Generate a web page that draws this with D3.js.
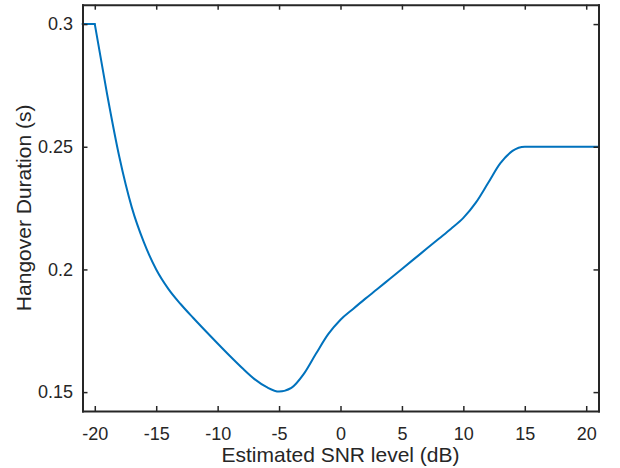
<!DOCTYPE html>
<html>
<head>
<meta charset="utf-8">
<script src="https://cdn.jsdelivr.net/npm/d3@7"></script>
<style>
  html, body { margin: 0; padding: 0; background: #fff; }
  svg { display: block; }
</style>
</head>
<body>
<svg id="chart" width="620" height="468"></svg>
<script>
// SNR level (dB)
const snr = [-21, -20, -19, -18, -17, -16, -15, -14, -13, -12, -11, -10, -9, -8, -7, -6, -5, -4, -3, -2, -1, 0,
             1, 2, 3, 4, 5, 6, 7, 8, 9, 10, 11, 12, 13, 14, 15, 21];
// Hangover duration (s)
const hangover = [0.3, 0.3, 0.2715, 0.2458, 0.2255, 0.2110, 0.2000, 0.1920, 0.1858, 0.1803, 0.1750, 0.1698,
                  0.1647, 0.1598, 0.1553, 0.1520, 0.1502, 0.1517, 0.1573, 0.1656, 0.1736, 0.1795,
                  0.1838, 0.1880, 0.1920, 0.1961, 0.2002, 0.2043, 0.2084, 0.2125, 0.2166, 0.2210,
                  0.2271, 0.2351, 0.2432, 0.2483, 0.25, 0.25];
const xTicks = [-20, -15, -10, -5, 0, 5, 10, 15, 20];
const yTicks = [0.15, 0.2, 0.25, 0.3];
const xLabel = "Estimated SNR level (dB)";
const yLabel = "Hangover Duration (s)";

const data = snr.map((x, i) => ({x, y: hangover[i]}));

const svg = d3.select("#chart");
const L = 82.5, R = 598.5, T = 4.7, B = 411;
const x = d3.scaleLinear().domain([-21, 21]).range([L, R]);
const y = d3.scaleLinear().domain([0.1423, 0.3079]).range([B, T]);

const axisColor = "#262626";
const font = "'Liberation Sans', Arial, Helvetica, sans-serif";

// flat start drawn straight (sharp corner at -20), the rest smooth through the read points
const i0 = snr.indexOf(-20);
const straight = d3.line().x(d => x(d.x)).y(d => y(d.y)).curve(d3.curveLinear);
const smooth = d3.line().x(d => x(d.x)).y(d => y(d.y)).curve(d3.curveMonotoneX);
const segments = [
  [data.slice(0, i0 + 1), straight],
  [data.slice(i0), smooth]
];
const g = svg.append("g");
segments.forEach(([seg, gen]) => {
  g.append("path").datum(seg)
    .attr("d", gen).attr("fill", "none").attr("stroke", "#0072BD")
    .attr("stroke-width", 2).attr("stroke-linejoin", "round").attr("stroke-linecap", "round");
});

function styleAxis(sel) {
  sel.select(".domain").attr("stroke", axisColor).attr("stroke-width", 2).attr("stroke-linecap", "square");
  sel.selectAll(".tick line").attr("stroke", axisColor).attr("stroke-width", 1.5);
  sel.selectAll(".tick text").attr("fill", axisColor)
    .style("font-family", font).style("font-size", "18px");
}

const fmt = d => String(+d.toFixed(2));

svg.append("g").attr("transform", `translate(0,${B})`)
  .call(d3.axisBottom(x).tickValues(xTicks).tickSizeInner(-5).tickSizeOuter(0).tickPadding(16).tickFormat(fmt))
  .call(styleAxis);
svg.append("g").attr("transform", `translate(0,${T})`)
  .call(d3.axisTop(x).tickValues(xTicks).tickSizeInner(-5).tickSizeOuter(0).tickFormat(""))
  .call(styleAxis);
svg.append("g").attr("transform", `translate(${L},0)`)
  .call(d3.axisLeft(y).tickValues(yTicks).tickSizeInner(-5).tickSizeOuter(0).tickPadding(9.5).tickFormat(fmt))
  .call(styleAxis);
svg.append("g").attr("transform", `translate(${R},0)`)
  .call(d3.axisRight(y).tickValues(yTicks).tickSizeInner(-5).tickSizeOuter(0).tickFormat(""))
  .call(styleAxis);

svg.append("text")
  .attr("x", (L + R) / 2).attr("y", 461.5)
  .attr("text-anchor", "middle")
  .attr("fill", axisColor)
  .style("font-family", font).style("font-size", "21px")
  .text(xLabel);

svg.append("text")
  .attr("transform", `translate(31,${(T + B) / 2}) rotate(-90)`)
  .attr("text-anchor", "middle")
  .attr("fill", axisColor)
  .style("font-family", font).style("font-size", "21px")
  .text(yLabel);
</script>
</body>
</html>
